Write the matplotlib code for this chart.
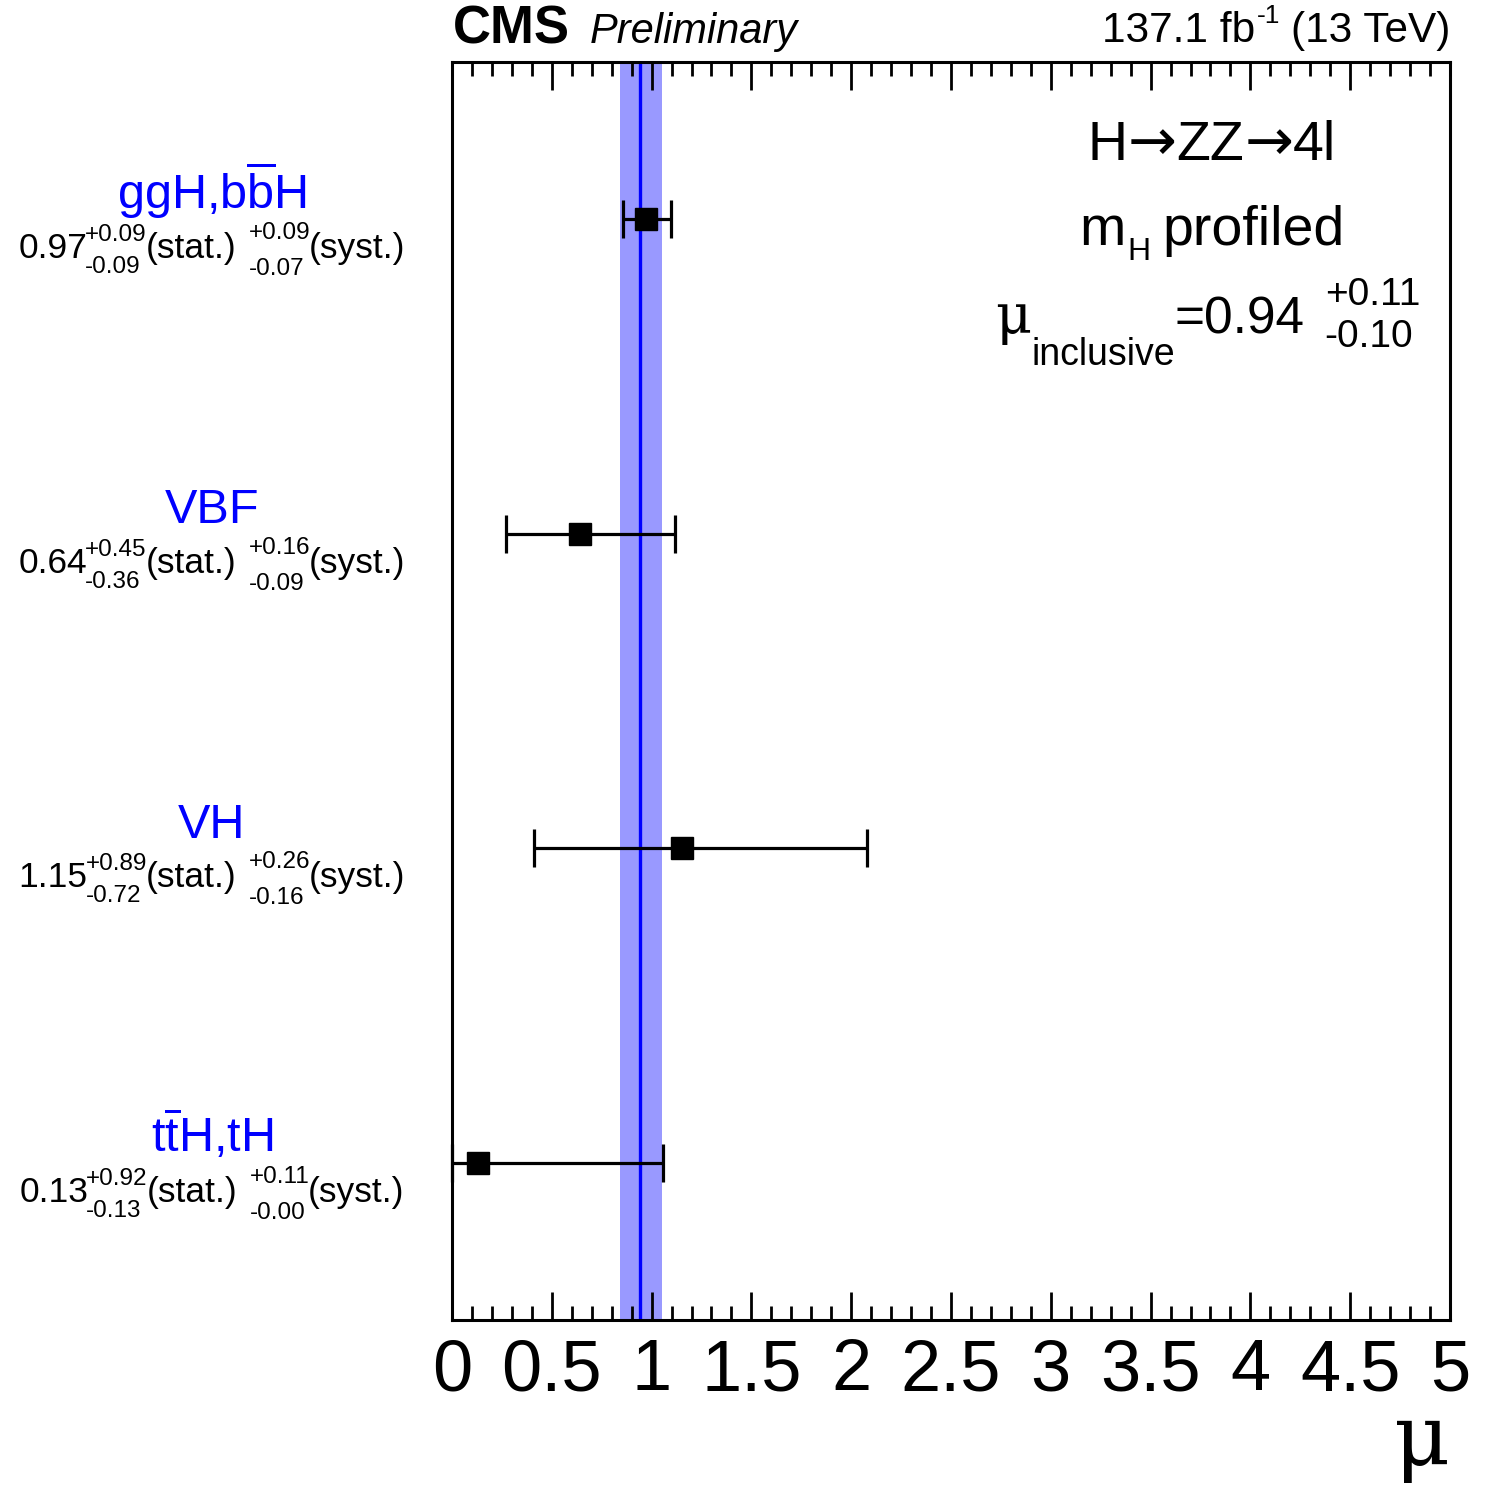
import matplotlib
matplotlib.use("Agg")
import matplotlib.pyplot as plt
import matplotlib.transforms as mtransforms
import numpy as np

plt.rcParams['font.family'] = ['Liberation Sans', 'DejaVu Sans']
plt.rcParams['mathtext.fontset'] = 'custom'
plt.rcParams['mathtext.rm'] = 'Liberation Sans'
plt.rcParams['mathtext.it'] = 'Liberation Sans:italic'
plt.rcParams['mathtext.bf'] = 'Liberation Sans:bold'

# production modes, top to bottom
names = [r'ggH,b$\overline{\mathrm{b}}$H', 'VBF', 'VH', r't$\overline{\mathrm{t}}$H,tH']
mu = np.array([0.97, 0.64, 1.15, 0.13])
stat_up = np.array([0.09, 0.45, 0.89, 0.92])
stat_dn = np.array([0.09, 0.36, 0.72, 0.13])
syst_up = np.array([0.09, 0.16, 0.26, 0.11])
syst_dn = np.array([0.07, 0.09, 0.16, 0.00])
ypos = np.array([3.5, 2.5, 1.5, 0.5])

# inclusive fit
mu_incl = 0.94
incl_up = 0.11
incl_dn = 0.10

tot_up = np.sqrt(stat_up**2 + syst_up**2)
tot_dn = np.sqrt(stat_dn**2 + syst_dn**2)

W, H = 1485, 1490
fig = plt.figure(figsize=(W/100, H/100), dpi=100)
ax = fig.add_axes([452/W, 1-1320/H, 998/W, 1258/H])

ax.axvspan(mu_incl-incl_dn, mu_incl+incl_up, color='#9999ff', lw=0, zorder=1)
ax.axvline(mu_incl, color='#0000ff', lw=2.4, zorder=2)

ax.errorbar(mu, ypos, xerr=[tot_dn, tot_up], fmt='s', color='black', ms=16,
            elinewidth=2.3, capsize=14, capthick=2.3, zorder=3, clip_on=False)

ax.set_xlim(0, 5)
ax.set_ylim(0, 4)
ax.set_xticks(np.arange(0, 5.01, 0.5))
ax.set_xticks(np.arange(0, 5.01, 0.1), minor=True)
ax.set_xticklabels(['0', '0.5', '1', '1.5', '2', '2.5', '3', '3.5', '4', '4.5', '5'])
ax.set_yticks([])
ax.tick_params(axis='x', which='both', direction='in', top=True, bottom=True,
               labelsize=52, pad=13, width=2)
ax.tick_params(axis='x', which='major', length=20)
ax.tick_params(axis='x', which='minor', length=10)
for s in ax.spines.values():
    s.set_linewidth(2.2)

renderer = fig.canvas.get_renderer()
ident = mtransforms.IdentityTransform()


def put_row(pieces, x, y, ha='center'):
    # pieces: ('txt', s, size, dy, kw) / ('stack', up, dn, size, dup, ddn) / ('gap', px)
    items = []
    for p in pieces:
        if p[0] == 'gap':
            items.append(([], p[1]))
        elif p[0] == 'txt':
            t = fig.text(0, 0, p[1], fontsize=p[2], transform=ident, va='baseline', **p[4])
            items.append(([(t, p[3])], t.get_window_extent(renderer).width))
        else:
            t1 = fig.text(0, 0, p[1], fontsize=p[3], transform=ident, va='baseline')
            t2 = fig.text(0, 0, p[2], fontsize=p[3], transform=ident, va='baseline')
            w = max(t1.get_window_extent(renderer).width, t2.get_window_extent(renderer).width)
            items.append(([(t1, p[4]), (t2, -p[5])], w))
    total = sum(w for _, w in items)
    x0 = x - total/2 if ha == 'center' else (x - total if ha == 'right' else x)
    for objs, w in items:
        for t, dy in objs:
            t.set_position((x0, y + dy))
        x0 += w


# labels on the left
trans = mtransforms.blended_transform_factory(ax.transAxes, ax.transData)
xl = (212-452)/998
for i in range(len(names)):
    ax.text(xl, ypos[i]+0.034, names[i], transform=trans, ha='center',
            va='baseline', color='#0000ff', fontsize=35)
    ybase = ax.transData.transform((0, ypos[i]))[1] - 39
    put_row([('txt', '%.2f' % mu[i], 25.5, 0, {}), ('gap', -2),
             ('stack', '+%.2f' % stat_up[i], '-%.2f' % stat_dn[i], 17.5, 17, 15),
             ('gap', -1), ('txt', '(stat.)', 25.5, 0, {}), ('gap', 12),
             ('stack', '+%.2f' % syst_up[i], '-%.2f' % syst_dn[i], 17.5, 19, 17),
             ('gap', -1), ('txt', '(syst.)', 25.5, 0, {})], 212, ybase)

# header
fig.text(453/W, 1-43/H, 'CMS', fontsize=38, fontweight='bold', va='baseline')
fig.text(590/W, 1-43/H, 'Preliminary', fontsize=30, style='italic', va='baseline')
put_row([('txt', '137.1 fb', 30.5, 0, {}), ('gap', 2), ('txt', '-1', 19, 19, {}),
         ('gap', 10), ('txt', '(13 TeV)', 30.5, 0, {})], 1450, H-42, ha='right')

# annotations inside the frame
arrow_kw = {'family': 'DejaVu Sans'}
put_row([('txt', 'H', 40, 0, {}), ('txt', '\u2192', 42, 0, arrow_kw), ('txt', 'ZZ', 40, 0, {}),
         ('txt', '\u2192', 42, 0, arrow_kw), ('txt', '4l', 40, 0, {})], 1212, H-160)
put_row([('txt', 'm', 40, 0, {}), ('gap', 2), ('txt', 'H', 23, -15, {}), ('gap', 12),
         ('txt', 'profiled', 40, 0, {})], 1212, H-245)
put_row([('txt', '\u03bc', 40, 0, {'family': 'DejaVu Serif'}), ('gap', 0),
         ('txt', 'inclusive', 27, -32, {}), ('gap', 0), ('txt', '=%.2f' % mu_incl, 37, 0, {}),
         ('gap', 20), ('stack', '+%.2f' % incl_up, '-%.2f' % incl_dn, 28, 28, 14)],
        995, H-333, ha='left')

# axis title
fig.text(1450/W, 1-1465/H, '\u03bc', fontsize=62, family='DejaVu Serif',
         ha='right', va='baseline')

plt.savefig('out.png', dpi=100)
